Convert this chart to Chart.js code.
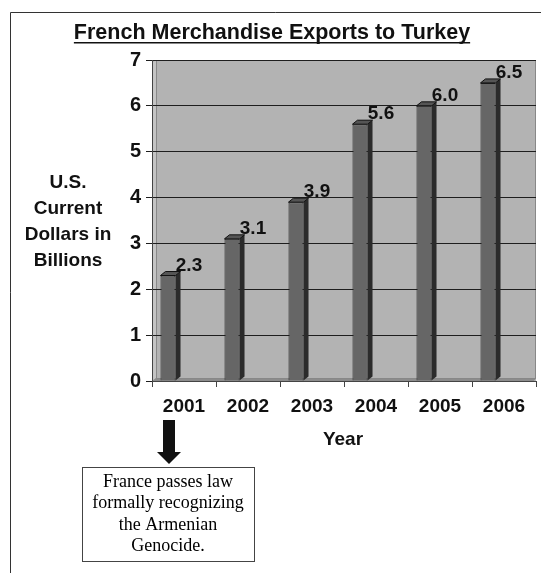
<!DOCTYPE html>
<html>
<head>
<meta charset="utf-8">
<script src="https://cdn.jsdelivr.net/npm/chart.js@4/dist/chart.umd.min.js"></script>
<style>
  html, body { margin: 0; padding: 0; background: #fff; }
  #wrap { width: 541px; height: 573px; position: relative; }
</style>
</head>
<body>
<div id="wrap"><canvas id="myChart" width="541" height="573"></canvas></div>
<script>
let years = ['2001', '2002', '2003', '2004', '2005', '2006'];
let exportsBn = [2.3, 3.1, 3.9, 5.6, 6.0, 6.5];
let yTicks = [0, 1, 2, 3, 4, 5, 6, 7];
let yTitleLines = ['U.S.', 'Current', 'Dollars in', 'Billions'];
let noteLines = ['France passes law', 'formally recognizing', 'the Armenian', 'Genocide.'];

const SANS = '"Liberation Sans", Arial, sans-serif';
const SERIF = '"Liberation Serif", "Times New Roman", serif';

// back wall, floor and side wall of the fake 3D plot
let wallPlugin = {
  id: 'wall',
  beforeDraw(chart) {
    let ctx = chart.ctx, a = chart.chartArea;
    ctx.save();
    ctx.fillStyle = '#b3b3b3';
    ctx.fillRect(a.left, a.top, a.right - a.left, a.bottom - a.top);
    // left wall strip
    ctx.fillStyle = '#c4c4c4';
    ctx.beginPath();
    ctx.moveTo(a.left, a.top + 3);
    ctx.lineTo(a.left + 4, a.top);
    ctx.lineTo(a.left + 4, a.bottom - 3);
    ctx.lineTo(a.left, a.bottom);
    ctx.closePath();
    ctx.fill();
    // floor strip
    ctx.fillStyle = '#8c8c8c';
    ctx.beginPath();
    ctx.moveTo(a.left, a.bottom);
    ctx.lineTo(a.left + 4, a.bottom - 3);
    ctx.lineTo(a.right, a.bottom - 3);
    ctx.lineTo(a.right - 2, a.bottom);
    ctx.closePath();
    ctx.fill();
    ctx.strokeStyle = '#888';
    ctx.lineWidth = 1;
    ctx.strokeRect(a.left + 4.5, a.top + 0.5, a.right - a.left - 5, a.bottom - a.top - 3);
    ctx.restore();
  }
};

// side and top faces of the bars plus value labels
let barPlugin = {
  id: 'bars3d',
  afterDatasetsDraw(chart) {
    let ctx = chart.ctx;
    let meta = chart.getDatasetMeta(0);
    ctx.save();
    meta.data.forEach((bar, i) => {
      let p = bar.getProps(['x', 'y', 'base', 'width'], true);
      let left = p.x - p.width / 2, right = p.x + p.width / 2;
      let dx = 5, dy = 4;
      ctx.fillStyle = '#2b2b2b';
      ctx.beginPath();
      ctx.moveTo(right, p.y);
      ctx.lineTo(right + dx, p.y - dy);
      ctx.lineTo(right + dx, p.base - dy);
      ctx.lineTo(right, p.base);
      ctx.closePath();
      ctx.fill();
      ctx.fillStyle = '#555';
      ctx.beginPath();
      ctx.moveTo(left, p.y);
      ctx.lineTo(left + dx, p.y - dy);
      ctx.lineTo(right + dx, p.y - dy);
      ctx.lineTo(right, p.y);
      ctx.closePath();
      ctx.fill();
      ctx.strokeStyle = '#111';
      ctx.lineWidth = 1;
      ctx.stroke();

      ctx.fillStyle = '#111';
      ctx.font = 'bold 19px ' + SANS;
      ctx.textAlign = 'center';
      ctx.textBaseline = 'alphabetic';
      ctx.fillText(exportsBn[i].toFixed(1), p.x + 21, p.y - 5);
    });
    ctx.restore();
  }
};

// titles, frame and the annotation box
let textPlugin = {
  id: 'texts',
  afterDraw(chart) {
    let ctx = chart.ctx;
    ctx.save();
    ctx.strokeStyle = '#333';
    ctx.lineWidth = 1;
    ctx.beginPath();
    ctx.moveTo(10.5, 573);
    ctx.lineTo(10.5, 12.5);
    ctx.lineTo(541, 12.5);
    ctx.stroke();

    ctx.fillStyle = '#111';
    ctx.textAlign = 'center';
    ctx.textBaseline = 'middle';
    ctx.font = 'bold 21.5px ' + SANS;
    let title = 'French Merchandise Exports to Turkey';
    ctx.fillText(title, 272, 33);
    let w = ctx.measureText(title).width;
    ctx.fillRect(272 - w / 2, 42, w, 1.5);

    ctx.font = 'bold 19px ' + SANS;
    yTitleLines.forEach((t, i) => ctx.fillText(t, 68, 183 + i * 26));
    ctx.fillText('Year', 343, 440);

    // arrow
    ctx.fillRect(163, 420, 12, 33);
    ctx.beginPath();
    ctx.moveTo(157, 452);
    ctx.lineTo(181, 452);
    ctx.lineTo(169, 464);
    ctx.closePath();
    ctx.fill();

    // note box
    ctx.fillStyle = '#fff';
    ctx.fillRect(82, 467, 172, 94);
    ctx.strokeStyle = '#444';
    ctx.strokeRect(82.5, 467.5, 172, 94);
    ctx.fillStyle = '#000';
    ctx.font = '18px ' + SERIF;
    noteLines.forEach((t, i) => ctx.fillText(t, 168, 482 + i * 21.5));
    ctx.restore();
  }
};

let myChart = document.getElementById('myChart').getContext('2d');

let chart = new Chart(myChart, {
  type: 'bar',
  data: {
    labels: years,
    datasets: [
      {
        data: exportsBn,
        backgroundColor: '#666666',
        borderColor: '#222',
        borderWidth: 1,
        categoryPercentage: 1,
        barPercentage: 0.47
      },
      {
        data: years.map(() => null),
        backgroundColor: 'rgba(0,0,0,0)',
        categoryPercentage: 1,
        barPercentage: 0.47
      }
    ]
  },
  plugins: [wallPlugin, barPlugin, textPlugin],
  options: {
    responsive: false,
    animation: false,
    layout: { padding: { left: 112, right: 5, top: 60, bottom: 152 } },
    plugins: {
      legend: { display: false },
      title: { display: false },
      tooltip: { enabled: false }
    },
    scales: {
      x: {
        afterFit: s => { s.height = 40; },
        grid: { display: true, drawOnChartArea: false, drawTicks: true, tickLength: 6, color: '#444', offset: true },
        border: { display: true, color: '#444' },
        ticks: { color: '#111', font: { family: SANS, size: 19, weight: 'bold' }, padding: 8 }
      },
      y: {
        min: 0,
        max: 7,
        afterFit: s => { s.width = 40; },
        afterBuildTicks: s => { s.ticks = yTicks.map(v => ({ value: v })); },
        grid: { color: '#1e1e1e', lineWidth: 1, tickLength: 6, drawTicks: true },
        border: { display: true, color: '#444' },
        ticks: { color: '#111', font: { family: SANS, size: 20, weight: 'bold' }, padding: 5 }
      }
    }
  }
});
</script>
</body>
</html>
